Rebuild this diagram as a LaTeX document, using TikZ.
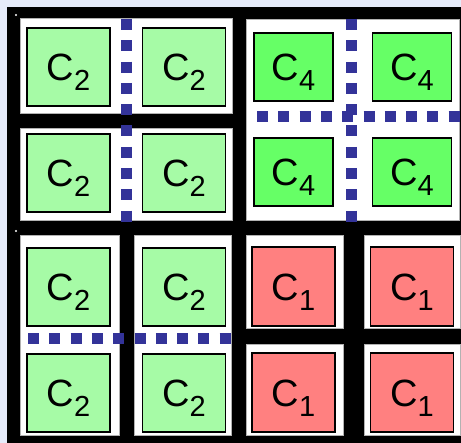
\documentclass[tikz,border=0pt]{standalone}
\usepackage{fontspec}
\setmainfont{Liberation Sans}
\usetikzlibrary{positioning}
\definecolor{bgblue}{HTML}{E6EBFA}
\definecolor{palegreen}{HTML}{A6FBA6}
\definecolor{brightgreen}{HTML}{66FF66}
\definecolor{salmon}{HTML}{FF8080}
\definecolor{dotblue}{HTML}{333399}
\newcommand{\clab}[1]{C\raisebox{-10pt}{\fontsize{29}{29}\selectfont #1}}

\begin{document}
\begin{tikzpicture}[
    x=1pt, y=-1pt,
    panel/.style={draw=gray!60, fill=white, line width=0.6pt},
    cell/.style={rectangle, draw=black, line width=1.6pt, inner sep=0pt, text height=28pt, text depth=0pt, font=\fontsize{38}{38}\selectfont},
    ctwo/.style={cell, fill=palegreen, minimum width=83pt, minimum height=78pt},
    cfour/.style={cell, fill=brightgreen, minimum width=79pt, minimum height=68pt},
    cone/.style={cell, fill=salmon, minimum width=83pt, minimum height=79pt},
    divider/.style={dotblue, line width=11pt, dash pattern=on 11pt off 10.3pt},
]
    \useasboundingbox (0,0) rectangle (461,443);

    % Background
    \fill[bgblue] (0,0) rectangle (461,443);
    \fill[black] (7,7.5) rectangle (461,443);
    \fill[white] (16,15) circle (1.2pt);
    \fill[white] (16,231) circle (1.2pt);

    % White panels
    \draw[panel] (20,18) rectangle (232,113);
    \draw[panel] (20,128) rectangle (232,220);
    \draw[panel] (246,19) rectangle (459.5,220);
    \draw[panel] (20,235) rectangle (119,435);
    \draw[panel] (134,235) rectangle (231,435);
    \draw[panel] (246,235) rectangle (343,328);
    \draw[panel] (364,235) rectangle (460,328);
    \draw[panel] (246,344) rectangle (343,435);
    \draw[panel] (364,344) rectangle (460,435);

    % Dotted dividers
    \draw[divider] (126,19) -- (126,222);
    \draw[divider] (351,19) -- (351,222);
    \draw[divider] (257,116.5) -- (461,116.5);
    \draw[divider] (28,338.5) -- (231,338.5);

    % Top left: C2 blocks
    \node[ctwo] (c2a) at (68.5,67) {\clab{2}};
    \node[ctwo] (c2b) at (184,67) {\clab{2}};
    \node[ctwo] (c2c) at (68.5,173) {\clab{2}};
    \node[ctwo] (c2d) at (184,173) {\clab{2}};

    % Top right: C4 blocks
    \node[cfour] (c4a) at (293.5,67) {\clab{4}};
    \node[cfour] (c4b) at (412,67) {\clab{4}};
    \node[cfour] (c4c) at (293.5,172) {\clab{4}};
    \node[cfour] (c4d) at (412,172) {\clab{4}};

    % Bottom left: C2 blocks
    \node[ctwo] (c2e) at (68.5,287) {\clab{2}};
    \node[ctwo] (c2f) at (184,287) {\clab{2}};
    \node[ctwo] (c2g) at (68.5,393) {\clab{2}};
    \node[ctwo] (c2h) at (184,393) {\clab{2}};

    % Bottom right: C1 blocks
    \node[cone] (c1a) at (293.5,286.5) {\clab{1}};
    \node[cone] (c1b) at (412,286.5) {\clab{1}};
    \node[cone] (c1c) at (293.5,392.5) {\clab{1}};
    \node[cone] (c1d) at (412,392.5) {\clab{1}};
\end{tikzpicture}
\end{document}
